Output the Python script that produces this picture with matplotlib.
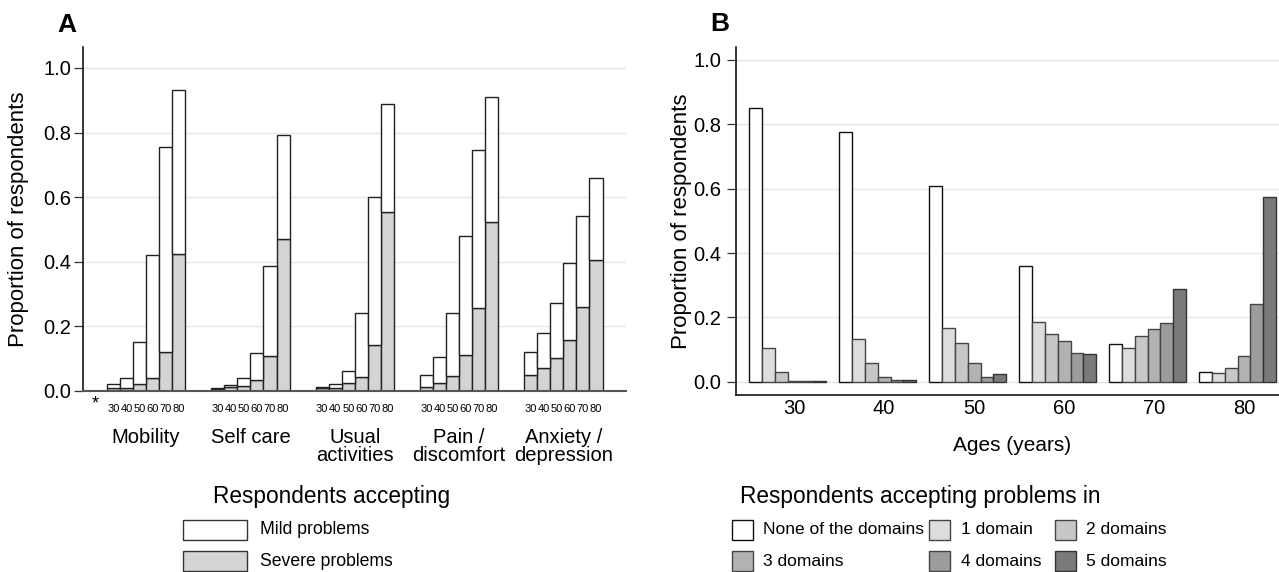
import numpy as np
import matplotlib
matplotlib.use("Agg")
import matplotlib.pyplot as plt
from matplotlib.patches import Rectangle
from matplotlib.transforms import blended_transform_factory

plt.rcParams["font.family"] = ["Liberation Sans", "DejaVu Sans"]

# ---- data -------------------------------------------------------------
ages = [30, 40, 50, 60, 70, 80]
domains = ["Mobility", "Self care", "Usual\nactivities", "Pain /\ndiscomfort", "Anxiety /\ndepression"]

# panel A: proportion accepting severe / mild problems, per domain, per age band
severe = [
    [0.008, 0.010, 0.022, 0.039, 0.122, 0.424],   # mobility
    [0.007, 0.013, 0.017, 0.034, 0.108, 0.470],   # self care
    [0.008, 0.010, 0.024, 0.044, 0.141, 0.553],   # usual activities
    [0.013, 0.026, 0.046, 0.110, 0.258, 0.522],   # pain / discomfort
    [0.050, 0.070, 0.103, 0.159, 0.259, 0.405],   # anxiety / depression
]
mild = [
    [0.014, 0.029, 0.131, 0.382, 0.632, 0.508],
    [0.003, 0.005, 0.022, 0.085, 0.280, 0.324],
    [0.003, 0.011, 0.039, 0.198, 0.461, 0.334],
    [0.037, 0.080, 0.196, 0.369, 0.487, 0.388],
    [0.070, 0.110, 0.168, 0.236, 0.284, 0.253],
]

# panel B: proportion accepting problems in n domains, per age band
n_labels = ["None of the domains", "1 domain", "2 domains", "3 domains", "4 domains", "5 domains"]
n_none = [0.852, 0.777, 0.608, 0.360, 0.116, 0.029]
n_one = [0.104, 0.132, 0.167, 0.185, 0.104, 0.026]
n_two = [0.029, 0.057, 0.122, 0.150, 0.142, 0.042]
n_three = [0.002, 0.014, 0.057, 0.128, 0.163, 0.081]
n_four = [0.004, 0.007, 0.016, 0.088, 0.183, 0.241]
n_five = [0.004, 0.007, 0.023, 0.085, 0.287, 0.575]
n_series = [n_none, n_one, n_two, n_three, n_four, n_five]

# ---- style ------------------------------------------------------------
W, H = 1279, 572
C_SEV = "#d3d4d3"
B_COLS = ["#ffffff", "#dcdddc", "#c7c7c7", "#b1b2b3", "#9b9c9c", "#7a7a7a"]
B_EDGE = ["#111111", "#444444", "#444444", "#444444", "#444444", "#333333"]
GRID = "#e6e6e6"

fig = plt.figure(figsize=(W / 100, H / 100), dpi=100)


def fx(px):
    return px / W


def fy(py):
    return 1 - py / H


def style_y(ax, pad):
    ax.set_yticks([0, 0.2, 0.4, 0.6, 0.8, 1.0])
    ax.set_yticklabels(["0.0", "0.2", "0.4", "0.6", "0.8", "1.0"])
    ax.tick_params(axis="y", labelsize=14.5, length=6.5, width=0.9, color="#333333", pad=pad)
    for v in [0.2, 0.4, 0.6, 0.8, 1.0]:
        ax.axhline(v, color=GRID, lw=1.0, zorder=0)
    ax.spines["top"].set_visible(False)
    ax.spines["right"].set_visible(False)
    ax.spines["left"].set_linewidth(1.1)


# ---- A ----------------------------------------------------------------
a = fig.add_axes([fx(83), fy(391), fx(543), 344 / H])
tr_a = blended_transform_factory(a.transData, a.transAxes)
xs_all, lab_all = [], []
for g, name in enumerate(domains):
    x = np.arange(len(ages)) + g * 8
    a.bar(x, severe[g], width=1.0, color=C_SEV, edgecolor="#222222", lw=1.0, zorder=2)
    a.bar(x, mild[g], bottom=severe[g], width=1.0, color="white", edgecolor="#222222", lw=1.0, zorder=2)
    xs_all += list(x)
    lab_all += [str(v) for v in ages]
    a.text(x.mean(), -0.108, name, transform=tr_a, ha="center", va="top",
           fontsize=14.5, linespacing=0.95)
a.set_xlim(-2.34, 39.3)
a.set_ylim(0, 1.065)
a.set_xticks(xs_all)
a.set_xticklabels(lab_all, fontsize=8)
a.tick_params(axis="x", length=0, pad=9)
style_y(a, 2)
a.spines["bottom"].set_color("#555555")
a.spines["bottom"].set_linewidth(1.5)
a.text(-1.42, -0.012, "*", transform=tr_a, ha="center", va="top", fontsize=13)
a.set_ylabel("Proportion of respondents", fontsize=16)
a.yaxis.set_label_coords(-0.099, 0.5)

# ---- B ----------------------------------------------------------------
b = fig.add_axes([fx(736), fy(395), fx(553), 348 / H])
for k, vals in enumerate(n_series):
    x = np.arange(len(ages)) * 7 + k
    b.bar(x, vals, width=1.0, color=B_COLS[k], edgecolor=B_EDGE[k], lw=1.0, zorder=2)
b.axhline(0, color=GRID, lw=1.0, zorder=0)
b.set_xlim(-1.53, 41.5)
b.set_ylim(-0.041, 1.04)
b.set_xticks(np.arange(len(ages)) * 7 + 3)
b.set_xticklabels([str(v) for v in ages], fontsize=14.5)
b.tick_params(axis="x", length=0, pad=3)
style_y(b, 4)
b.spines["bottom"].set_linewidth(1.1)
b.set_xlabel("Ages (years)", fontsize=15, labelpad=13)
b.set_ylabel("Proportion of respondents", fontsize=16)
b.yaxis.set_label_coords(-0.080, 0.5)

# ---- panel letters ----------------------------------------------------
fig.text(fx(67), fy(25), "A", fontsize=19, fontweight="bold", ha="center", va="center")
fig.text(fx(720), fy(24), "B", fontsize=19, fontweight="bold", ha="center", va="center")


# ---- legends ----------------------------------------------------------
def key(x0, top, w, h, face, edge):
    fig.patches.append(Rectangle((fx(x0), fy(top + h)), w / W, h / H, transform=fig.transFigure,
                                 facecolor=face, edgecolor=edge, lw=1.0))


fig.text(fx(213), fy(497), "Respondents accepting", fontsize=16.3, va="center")
key(183, 520, 64, 20, "white", "#333333")
fig.text(fx(260), fy(530), "Mild problems", fontsize=12.7, va="center")
key(183, 551, 64, 20, C_SEV, "#333333")
fig.text(fx(260), fy(561), "Severe problems", fontsize=12.7, va="center")

fig.text(fx(740), fy(497), "Respondents accepting problems in", fontsize=16.3, va="center")
col_box = [732, 929, 1055]
col_txt = [763, 961, 1086]
row_top = [520, 551]
for k, lab in enumerate(n_labels):
    r, c = divmod(k, 3)
    key(col_box[c], row_top[r], 21, 20, B_COLS[k], B_EDGE[k])
    fig.text(fx(col_txt[c]), fy(row_top[r] + 10), lab, fontsize=12.5, va="center")

fig.savefig("out.png", dpi=100)
